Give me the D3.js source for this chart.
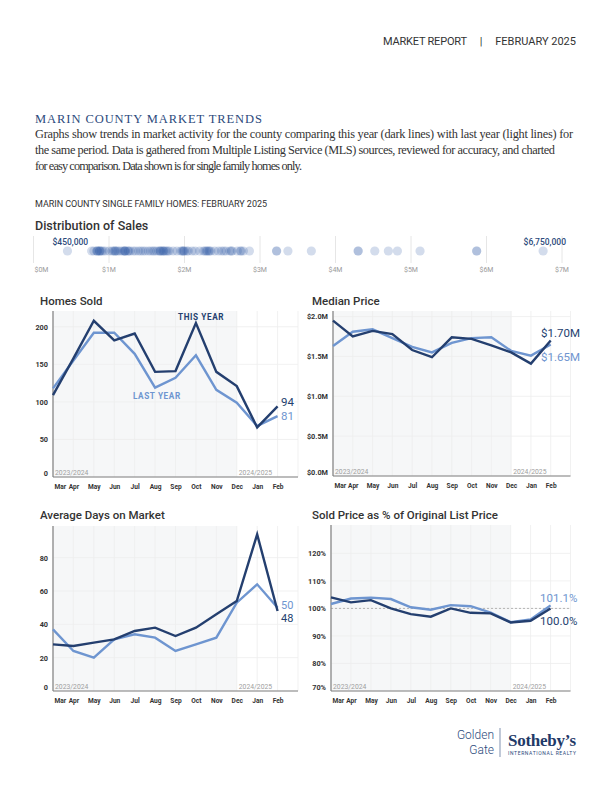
<!DOCTYPE html>
<html>
<head>
<meta charset="utf-8">
<script src="https://cdn.jsdelivr.net/npm/d3@7"></script>
<style>
  body { margin: 0; background: #fff; }
  svg { display: block; }
  text { font-family: Roboto, "Noto Sans", sans-serif; }
</style>
</head>
<body>
<svg id="page" width="612" height="792"></svg>
<script>
// ---- data ----
const months = ["Mar", "Apr", "May", "Jun", "Jul", "Aug", "Sep", "Oct", "Nov", "Dec", "Jan", "Feb"]

const soldThis = [109, 158, 208, 182, 191, 140, 141, 205, 140, 121, 66, 94]
const soldLast = [118, 155, 192, 192, 164, 119, 132, 162, 116, 99, 68, 81]

const priceThis = [1.95, 1.75, 1.82, 1.78, 1.58, 1.49, 1.74, 1.72, 1.64, 1.55, 1.41, 1.70]
const priceLast = [1.63, 1.81, 1.84, 1.73, 1.62, 1.55, 1.67, 1.73, 1.74, 1.57, 1.51, 1.65]

const domThis = [28, 27, 29, 31, 36, 38, 33, 38, 46, 54, 94, 48]
const domLast = [37, 24, 20, 31, 34, 32, 24, 28, 32, 53, 64, 50]

const pctThis = [104, 102.2, 103, 100, 97.9, 97, 100, 98.4, 98.2, 94.9, 95.5, 100]
const pctLast = [101.6, 103.6, 103.9, 103.4, 100.4, 99.5, 101.2, 100.8, 98.5, 95, 96, 101.1]

// sale prices in $M (one dot per sale, Feb 2025)
const salePrices = [
  0.45,
  0.77, 0.80, 0.84, 0.84, 0.85, 0.87, 0.88, 0.88, 0.90, 0.92, 0.95,
  1.00, 1.04, 1.06, 1.08, 1.08, 1.10, 1.12, 1.15,
  1.18, 1.20, 1.21, 1.21, 1.22, 1.25, 1.26, 1.28,
  1.32, 1.35, 1.39, 1.42, 1.45, 1.48, 1.52, 1.55, 1.58,
  1.60, 1.63, 1.66, 1.68, 1.68, 1.70, 1.72, 1.72, 1.74, 1.76, 1.78, 1.80,
  1.85, 1.90, 1.95, 1.97, 1.98, 1.99, 2.00, 2.03, 2.05,
  2.10, 2.14, 2.20, 2.25, 2.27, 2.29, 2.30, 2.32, 2.33, 2.35,
  2.40, 2.45, 2.49, 2.52, 2.55, 2.60, 2.62, 2.63, 2.70, 2.74, 2.75, 2.78, 2.86,
  3.22, 3.22, 3.37, 3.68, 4.30, 4.30, 4.52, 4.70, 4.82, 5.12, 5.87, 5.87, 6.75
]
const distTicks = [0, 1, 2, 3, 4, 5, 6, 7]

const introLines = [
  "Graphs show trends in market activity for the county comparing this year (dark lines) with last year (light lines) for",
  "the same period. Data is gathered from Multiple Listing Service (MLS) sources, reviewed for accuracy, and charted",
  "for easy comparison. Data shown is for single family homes only."
]

const DARK = "#243f6f"
const LIGHT = "#6e95d0"
const NAVY = "#2c4a7c"
const svg = d3.select("#page")

// ---- header ----
svg.append("text").attr("x", 383).attr("y", 45).attr("font-size", 11).attr("fill", "#333")
  .attr("textLength", 84).text("MARKET REPORT")
svg.append("text").attr("x", 481).attr("y", 45).attr("font-size", 11).attr("fill", "#333")
  .attr("text-anchor", "middle").text("|")
svg.append("text").attr("x", 576).attr("y", 45).attr("font-size", 11).attr("fill", "#333")
  .attr("text-anchor", "end").text("FEBRUARY 2025")

svg.append("text").attr("x", 35).attr("y", 123).attr("font-size", 12.5).attr("fill", NAVY)
  .style("font-family", "'Liberation Serif', serif").attr("textLength", 227)
  .text("MARIN COUNTY MARKET TRENDS")

const introWidths = [538, 520, 267]
introLines.forEach((l, i) => {
  svg.append("text").attr("x", 35).attr("y", 138 + i * 16).attr("font-size", 12.3).attr("fill", "#333")
    .style("font-family", "'Liberation Serif', serif")
    .attr("textLength", introWidths[i]).attr("lengthAdjust", "spacing")
    .text(l)
})

svg.append("text").attr("x", 35).attr("y", 207).attr("font-size", 9).attr("fill", "#333")
  .attr("textLength", 232).text("MARIN COUNTY SINGLE FAMILY HOMES: FEBRUARY 2025")

// ---- distribution of sales ----
svg.append("text").attr("x", 35).attr("y", 230).attr("font-size", 12.5).attr("font-weight", 500)
  .attr("fill", "#333").text("Distribution of Sales")

const dx = d3.scaleLinear().domain([0, 7]).range([33.5, 562])
const dist = svg.append("g")
dist.selectAll("line.grid").data(distTicks).join("line")
  .attr("x1", d => dx(d)).attr("x2", d => dx(d)).attr("y1", 236).attr("y2", 263)
  .attr("stroke", "#e6e6e6").attr("stroke-width", 1)
dist.selectAll("text.tick").data(distTicks).join("text")
  .attr("x", d => d === 0 ? dx(d) + 1 : dx(d))
  .attr("text-anchor", d => d === 0 ? "start" : "middle")
  .attr("y", 272).attr("font-size", 7).attr("fill", "#9a9a9a")
  .text(d => `$${d}M`)
dist.selectAll("circle").data(salePrices).join("circle")
  .attr("cx", d => dx(d)).attr("cy", 251).attr("r", 4.6)
  .attr("fill", "#2d5aa6").attr("fill-opacity", 0.21)
dist.append("text").attr("x", dx(d3.min(salePrices)) - 15).attr("y", 245)
  .attr("font-size", 8.5).attr("font-weight", 500).attr("fill", NAVY).text("$450,000")
dist.append("text").attr("x", 566).attr("y", 245).attr("text-anchor", "end")
  .attr("font-size", 8.5).attr("font-weight", 500).attr("fill", NAVY).text("$6,750,000")

// ---- line charts ----
function drawChart(o)
{
  const g = svg.append("g")
  const x = d3.scaleLinear().domain([0, 12]).range([o.left, o.right])
  const y = d3.scaleLinear().domain(o.domain).range([o.bottom, o.top])

  g.append("text").attr("x", o.titleX).attr("y", o.titleY).attr("font-size", 11.5).attr("font-weight", 500)
    .attr("fill", "#333").text(o.title)

  //shaded last-period region
  g.append("rect").attr("x", x(0)).attr("y", o.top).attr("width", x(9) - x(0)).attr("height", o.bottom - o.top)
    .attr("fill", "#f6f7f8")

  //grid
  g.selectAll("line.v").data(d3.range(13)).join("line")
    .attr("x1", d => x(d)).attr("x2", d => x(d)).attr("y1", o.top).attr("y2", o.bottom)
    .attr("stroke", "#eeeeee").attr("stroke-width", 0.8)
  g.selectAll("line.h").data(o.ticks).join("line")
    .attr("x1", x(0)).attr("x2", x(12)).attr("y1", d => y(d)).attr("y2", d => y(d))
    .attr("stroke", "#eeeeee").attr("stroke-width", 0.8)

  if (o.ref != null)
    g.append("line").attr("x1", x(0)).attr("x2", x(12)).attr("y1", y(o.ref)).attr("y2", y(o.ref))
      .attr("stroke", "#9a9a9a").attr("stroke-width", 0.7).attr("stroke-dasharray", "2,2")

  //axes
  const yAxis = g.append("g").attr("transform", `translate(${o.left},0)`)
    .call(d3.axisLeft(y).tickValues(o.ticks).tickFormat(o.fmt).tickSize(0).tickPadding(5))
  yAxis.select(".domain").remove()
  yAxis.selectAll("text").attr("font-size", 7.3).attr("font-weight", 700).attr("fill", "#333")
    .style("font-family", "Roboto, sans-serif")
    .attr("dy", d => d === o.domain[0] ? "-0.2em" : "0.32em")

  const xAxis = g.append("g").attr("transform", `translate(0,${o.bottom})`)
    .call(d3.axisBottom(x).tickValues(d3.range(12)).tickFormat(i => months[i]).tickSize(0).tickPadding(7))
  xAxis.select(".domain").remove()
  xAxis.selectAll("text").attr("font-size", 6.6).attr("font-weight", 700).attr("fill", "#333")
    .style("font-family", "Roboto, sans-serif")
    .attr("text-anchor", d => d === 0 ? "start" : "middle")
    .attr("x", d => d === 0 ? 1 : 0)

  g.append("line").attr("x1", o.left).attr("x2", o.left).attr("y1", o.top).attr("y2", o.bottom)
    .attr("stroke", "#808080").attr("stroke-width", 1.2)
  g.append("line").attr("x1", o.left).attr("x2", o.right).attr("y1", o.bottom).attr("y2", o.bottom)
    .attr("stroke", "#808080").attr("stroke-width", 1.2)

  g.append("text").attr("x", x(0) + 2).attr("y", o.bottom - 2.5).attr("font-size", 6.8).attr("fill", "#a0a0a0")
    .text("2023/2024")
  g.append("text").attr("x", x(9) + 2).attr("y", o.bottom - 2.5).attr("font-size", 6.8).attr("fill", "#a0a0a0")
    .text("2024/2025")

  const line = d3.line().x((d, i) => x(i)).y(d => y(d))
  g.append("path").datum(o.last).attr("d", line).attr("fill", "none")
    .attr("stroke", LIGHT).attr("stroke-width", 2.4).attr("stroke-linejoin", "miter")
  g.append("path").datum(o.cur).attr("d", line).attr("fill", "none")
    .attr("stroke", DARK).attr("stroke-width", 2.4).attr("stroke-linejoin", "miter")

  g.append("text").attr("x", o.lblX).attr("y", o.curLblY).attr("font-size", o.lblSize || 11.5).attr("fill", DARK)
    .text(o.curLbl)
  g.append("text").attr("x", o.lblX).attr("y", o.lastLblY).attr("font-size", o.lblSize || 11.5).attr("fill", LIGHT)
    .text(o.lastLbl)
  return { g, x, y }
}

const c1 = drawChart({
  title: "Homes Sold", titleX: 40, titleY: 305,
  left: 53, right: 298, top: 311, bottom: 477,
  domain: [0, 221], ticks: [0, 50, 100, 150, 200], fmt: d => d,
  cur: soldThis, last: soldLast,
  lblX: 281, curLbl: "94", curLblY: 406, lastLbl: "81", lastLblY: 420
})
c1.g.append("text").attr("x", 178).attr("y", 320).attr("font-size", 8.2).attr("font-weight", 700)
  .attr("letter-spacing", 0.6).attr("fill", DARK).text("THIS YEAR")
c1.g.append("text").attr("x", 133).attr("y", 399).attr("font-size", 8.2).attr("font-weight", 700)
  .attr("letter-spacing", 0.6).attr("fill", LIGHT).text("LAST YEAR")

drawChart({
  title: "Median Price", titleX: 312, titleY: 305,
  left: 333, right: 570.5, top: 311, bottom: 476,
  domain: [0, 2.07], ticks: [0, 0.5, 1, 1.5, 2], fmt: d => `$${d3.format(".1f")(d)}M`,
  cur: priceThis, last: priceLast,
  lblX: 541, curLbl: "$1.70M", curLblY: 337, lastLbl: "$1.65M", lastLblY: 361
})

drawChart({
  title: "Average Days on Market", titleX: 40, titleY: 519,
  left: 53, right: 298, top: 526, bottom: 691,
  domain: [0, 99], ticks: [0, 20, 40, 60, 80], fmt: d => d,
  cur: domThis, last: domLast, lblSize: 11,
  lblX: 281, curLbl: "48", curLblY: 622, lastLbl: "50", lastLblY: 609
})

drawChart({
  title: "Sold Price as % of Original List Price", titleX: 312, titleY: 519,
  left: 331, right: 570.5, top: 525, bottom: 691,
  domain: [70, 130.3], ticks: [70, 80, 90, 100, 110, 120], fmt: d => `${d}%`,
  cur: pctThis, last: pctLast, ref: 100,
  lblX: 540, curLbl: "100.0%", curLblY: 625, lastLbl: "101.1%", lastLblY: 602
})

// ---- logo ----
const logo = svg.append("g")
logo.append("text").attr("x", 494).attr("y", 739).attr("text-anchor", "end").attr("font-size", 12)
  .attr("font-weight", 300).attr("fill", NAVY).text("Golden")
logo.append("text").attr("x", 494).attr("y", 754).attr("text-anchor", "end").attr("font-size", 12)
  .attr("font-weight", 300).attr("fill", NAVY).text("Gate")
logo.append("line").attr("x1", 500).attr("x2", 500).attr("y1", 728).attr("y2", 757)
  .attr("stroke", NAVY).attr("stroke-width", 0.6)
logo.append("text").attr("x", 508).attr("y", 746).attr("font-size", 17).attr("font-weight", 700)
  .style("font-family", "'Liberation Serif', serif").attr("fill", "#1f3a68")
  .attr("textLength", 68).text("Sotheby’s")
logo.append("text").attr("x", 508).attr("y", 755).attr("font-size", 5).attr("fill", NAVY)
  .attr("textLength", 68).text("INTERNATIONAL REALTY")
</script>
</body>
</html>
